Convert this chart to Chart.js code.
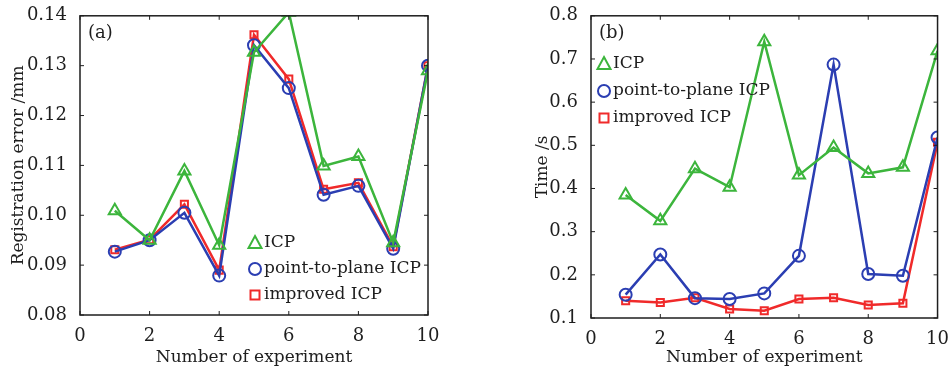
<!DOCTYPE html>
<html>
<head>
<meta charset="utf-8">
<script src="https://cdn.jsdelivr.net/npm/chart.js@4.4.0/dist/chart.umd.min.js"></script>
<style>
  body { margin: 0; background: #fff; width: 952px; height: 368px; overflow: hidden; position: relative; }
  .box { position: absolute; top: 0; height: 368px; }
</style>
</head>
<body>
<div class="box" style="left:0;width:476px"><canvas id="chartA"></canvas></div>
<div class="box" style="left:480px;width:472px"><canvas id="chartB"></canvas></div>
<script>
// experiment numbers
var experiments = [1, 2, 3, 4, 5, 6, 7, 8, 9, 10];

// (a) registration error /mm
var errICP      = [0.1009, 0.0950, 0.1089, 0.0940, 0.1327, 0.1407, 0.1099, 0.1118, 0.0945, 0.1290];
var errPlaneICP = [0.0927, 0.0950, 0.1005, 0.0879, 0.1341, 0.1255, 0.1041, 0.1059, 0.0933, 0.1300];
var errImproved = [0.0931, 0.0951, 0.1022, 0.0890, 0.1362, 0.1273, 0.1052, 0.1065, 0.0937, 0.1300];

// (b) time /s
var timeICP      = [0.385, 0.325, 0.446, 0.403, 0.740, 0.431, 0.495, 0.435, 0.449, 0.719];
var timePlaneICP = [0.154, 0.247, 0.146, 0.144, 0.157, 0.244, 0.687, 0.202, 0.198, 0.518];
var timeImproved = [0.140, 0.136, 0.147, 0.121, 0.117, 0.144, 0.147, 0.130, 0.134, 0.507];

var seriesNames = ['ICP', 'point-to-plane ICP', 'improved ICP'];

var GREEN = '#3cb53c', BLUE = '#2b3eb2', RED = '#f02a2a', INK = '#1e1e1e';
var FONT = 'DejaVu Serif';

function pts(ys) {
  return experiments.map(function (x, i) { return { x: x, y: ys[i] }; });
}

function makeSets(a, b, c) {
  return [
    { label: seriesNames[0], data: pts(a), borderColor: GREEN, pointStyle: 'triangle', pointRadius: 7 },
    { label: seriesNames[1], data: pts(b), borderColor: BLUE, pointStyle: 'circle', pointRadius: 6 },
    { label: seriesNames[2], data: pts(c), borderColor: RED, pointStyle: 'rect', pointRadius: 5 }
  ].map(function (d) {
    d.backgroundColor = 'rgba(0,0,0,0)';
    d.pointBorderColor = d.borderColor;
    d.pointBackgroundColor = 'rgba(0,0,0,0)';
    d.borderWidth = 2.5;
    d.pointBorderWidth = 2;
    d.tension = 0;
    return d;
  });
}

function drawMarker(ctx, style, x, y, color) {
  ctx.save();
  ctx.strokeStyle = color;
  ctx.lineWidth = 2;
  ctx.beginPath();
  if (style === 'triangle') {
    ctx.moveTo(x, y - 7); ctx.lineTo(x + 6.5, y + 5); ctx.lineTo(x - 6.5, y + 5); ctx.closePath();
  } else if (style === 'circle') {
    ctx.arc(x, y, 6, 0, Math.PI * 2);
  } else {
    ctx.rect(x - 4.5, y - 4.5, 9, 9);
  }
  ctx.stroke();
  ctx.restore();
}

// frame with inward ticks, panel tag and in-plot legend
function framePlugin(tag, legendX, legendY, legendGap) {
  return {
    id: 'frame',
    afterDraw: function (chart) {
      var ctx = chart.ctx, a = chart.chartArea;
      ctx.save();
      ctx.strokeStyle = INK;
      ctx.lineWidth = 1.5;
      ctx.strokeRect(a.left, a.top, a.right - a.left, a.bottom - a.top);
      var xs = chart.scales.x, ys = chart.scales.y;
      ctx.lineWidth = 1;
      ctx.beginPath();
      xs.ticks.forEach(function (t) {
        var px = xs.getPixelForValue(t.value);
        ctx.moveTo(px, a.bottom); ctx.lineTo(px, a.bottom - 4);
        ctx.moveTo(px, a.top); ctx.lineTo(px, a.top + 4);
      });
      ys.ticks.forEach(function (t) {
        var py = ys.getPixelForValue(t.value);
        ctx.moveTo(a.left, py); ctx.lineTo(a.left + 4, py);
        ctx.moveTo(a.right, py); ctx.lineTo(a.right - 4, py);
      });
      ctx.stroke();

      ctx.fillStyle = INK;
      ctx.font = '18px "' + FONT + '"';
      ctx.textBaseline = 'middle';
      ctx.textAlign = 'left';
      ctx.fillText(tag, a.left + 8, a.top + 18);

      var styles = ['triangle', 'circle', 'rect'], colors = [GREEN, BLUE, RED];
      ctx.font = '17px "' + FONT + '"';
      for (var i = 0; i < 3; i++) {
        var y = legendY + i * legendGap;
        drawMarker(ctx, styles[i], legendX, y, colors[i]);
        ctx.fillStyle = INK;
        ctx.fillText(seriesNames[i], legendX + 9, y);
      }
      ctx.restore();
    }
  };
}

function axisFont(size) { return { family: FONT, size: size }; }

function makeChart(id, sets, yMin, yMax, yStep, yDigits, yTitle, padLeft, yWidth, padRight, padTop, xHeight, plugin) {
  return new Chart(document.getElementById(id), {
    type: 'line',
    data: { datasets: sets },
    options: {
      responsive: true,
      maintainAspectRatio: false,
      animation: false,
      layout: { padding: { left: padLeft, right: padRight, top: padTop, bottom: 0 } },
      plugins: { legend: { display: false }, tooltip: { enabled: false } },
      scales: {
        x: {
          type: 'linear', min: 0, max: 10,
          afterFit: function (s) { s.height = xHeight; },
          ticks: { stepSize: 2, color: INK, font: axisFont(18), padding: 3 },
          grid: { display: false },
          border: { display: false },
          title: { display: true, text: 'Number of experiment', color: INK, font: axisFont(17), padding: { top: 0, bottom: 0 } }
        },
        y: {
          type: 'linear', min: yMin, max: yMax,
          afterFit: function (s) { s.width = yWidth; },
          ticks: {
            stepSize: yStep, color: INK, font: axisFont(18), padding: 5,
            callback: function (v) { return Number(v).toFixed(yDigits); }
          },
          grid: { display: false },
          border: { display: false },
          title: { display: true, text: yTitle, color: INK, font: axisFont(17), padding: { top: 0, bottom: 4 } }
        }
      }
    },
    plugins: [plugin]
  });
}

makeChart('chartA', makeSets(errICP, errPlaneICP, errImproved),
  0.08, 0.14, 0.01, 2, 'Registration error /mm', 8, 72, 48, 15, 53,
  framePlugin('(a)', 255, 243, 26));

makeChart('chartB', makeSets(timeICP, timePlaneICP, timeImproved),
  0.1, 0.8, 0.1, 1, 'Time /s', 52, 59, 10, 14, 50,
  framePlugin('(b)', 124, 64, 27));
</script>
</body>
</html>
